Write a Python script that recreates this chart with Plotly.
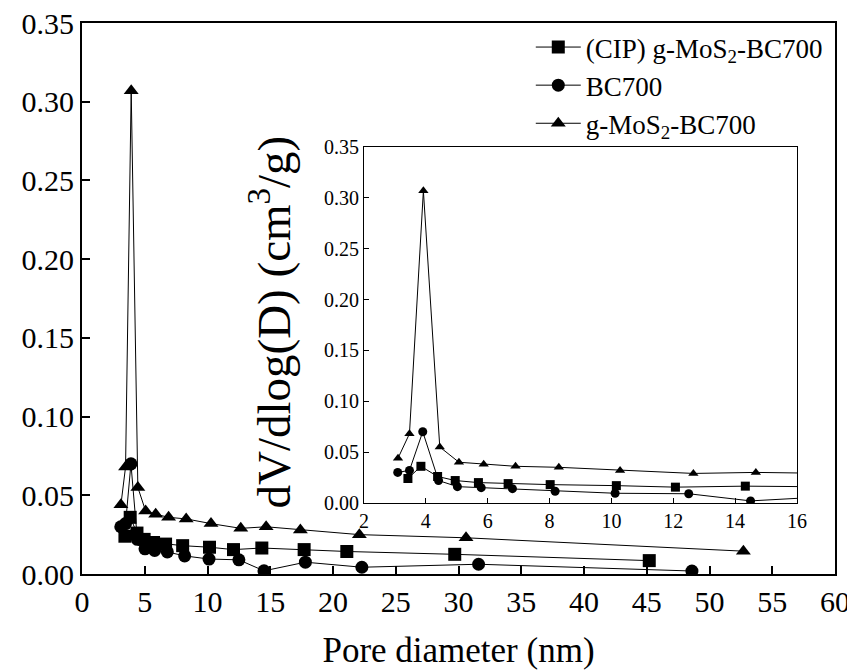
import plotly.graph_objects as go

# Data (pore diameter in nm, dV/dlog(D) in cm3/g)
cip_x = [3.42, 3.84, 4.38, 4.95, 5.7, 6.66, 8.02, 10.16, 12.07, 14.33, 17.7, 21.1, 29.7, 45.2]
cip_y = [0.024, 0.036, 0.026, 0.022, 0.020, 0.019, 0.018, 0.017, 0.0155, 0.0165, 0.0155, 0.0143, 0.0125, 0.0085]

bc_x = [3.09, 3.47, 3.9, 4.41, 5.02, 5.79, 6.8, 8.18, 10.12, 12.5, 14.5, 17.8, 22.3, 31.6, 48.6]
bc_y = [0.030, 0.032, 0.070, 0.022, 0.016, 0.015, 0.014, 0.0115, 0.0095, 0.009, 0.002, 0.0075, 0.0043, 0.0062, 0.0019]

mos_x = [3.1, 3.47, 3.92, 4.45, 5.07, 5.87, 6.9, 8.3, 10.28, 12.65, 14.67, 17.4, 22.1, 30.6, 52.7]
mos_y = [0.044, 0.068, 0.307, 0.055, 0.040, 0.038, 0.036, 0.035, 0.032, 0.029, 0.030, 0.028, 0.025, 0.023, 0.0145]

names = ["(CIP) g-MoS<sub>2</sub>-BC700", "BC700", "g-MoS<sub>2</sub>-BC700"]
symbols = ["square", "circle", "triangle-up"]
series = [(cip_x, cip_y), (bc_x, bc_y), (mos_x, mos_y)]

FONT = "Liberation Serif, Times New Roman, serif"
fig = go.Figure()

for i, ((xs, ys), nm, sym) in enumerate(zip(series, names, symbols)):
    fig.add_trace(go.Scatter(
        x=xs, y=ys, mode="lines+markers", name=nm,
        legendgroup=str(i),
        line=dict(color="black", width=1),
        marker=dict(symbol=sym, size=13, color="black"),
        xaxis="x", yaxis="y"))

for i, ((xs, ys), nm, sym) in enumerate(zip(series, names, symbols)):
    fig.add_trace(go.Scatter(
        x=xs, y=ys, mode="lines+markers", name=nm, showlegend=False,
        line=dict(color="black", width=1),
        marker=dict(symbol=sym, size=9, color="black"),
        xaxis="x2", yaxis="y2"))

def ax(**kw):
    d = dict(showline=True, linecolor="black", mirror=True,
             ticks="inside", tickcolor="black", showgrid=False, zeroline=False,
             automargin=False, ticklabeloverflow="allow")
    d.update(kw)
    return d

# the page body adds an 8px offset, so margins are reduced on the left/top
fig.update_layout(
    width=855, height=670,
    margin=dict(l=74, r=28, t=15, b=104),
    paper_bgcolor="white", plot_bgcolor="white",
    font=dict(family=FONT, color="black", size=24),
    xaxis=ax(range=[0, 60], dtick=5, tick0=0, ticklen=8, tickwidth=1.5, linewidth=2,
             tickfont=dict(size=30, family=FONT, color="black"),
             title=dict(text="Pore diameter (nm)", font=dict(size=35, family=FONT), standoff=20)),
    yaxis=ax(range=[0, 0.35], dtick=0.05, tick0=0, tickformat=".2f", ticklen=8, tickwidth=1.5,
             linewidth=2, tickfont=dict(size=30, family=FONT, color="black")),
    xaxis2=ax(domain=[0.3745, 0.9495], anchor="y2", range=[2, 16], dtick=2, tick0=2,
              ticklen=5, tickwidth=1, linewidth=1.2,
              tickfont=dict(size=20, family=FONT, color="black")),
    yaxis2=ax(domain=[0.129, 0.775], anchor="x2", range=[0, 0.35], dtick=0.05, tick0=0,
              tickformat=".2f", ticklen=5, tickwidth=1, linewidth=1.2,
              tickfont=dict(size=20, family=FONT, color="black")),
    legend=dict(x=0.596, y=1.0, xanchor="left", yanchor="top",
                font=dict(size=27, family=FONT, color="black"), bgcolor="rgba(0,0,0,0)",
                tracegroupgap=0, itemwidth=45),
    showlegend=True,
)

fig.add_annotation(text="dV/dlog(D) (cm<sup>3</sup>/g)", textangle=-90,
                   xref="paper", yref="paper", x=0.251, y=0.4564,
                   xanchor="center", yanchor="middle",
                   showarrow=False, font=dict(size=47, family=FONT, color="black"))

fig.write_html("out.html")
